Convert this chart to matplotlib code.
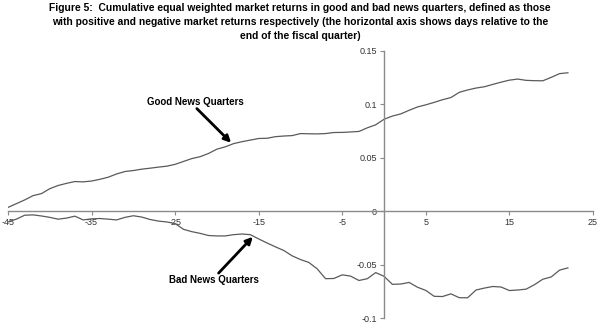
import matplotlib
matplotlib.use("Agg")
import matplotlib.pyplot as plt

plt.rcParams['font.family'] = ['Liberation Sans', 'DejaVu Sans']

# days relative to fiscal quarter end
days = list(range(-45, 23))

good_news = [0.0035, 0.007, 0.0105, 0.0145, 0.0164, 0.021, 0.024, 0.026, 0.0277, 0.0274,
             0.0282, 0.0298, 0.0318, 0.0348, 0.0371, 0.038, 0.0393, 0.0402, 0.0412, 0.0421,
             0.0438, 0.0465, 0.0492, 0.051, 0.054, 0.058, 0.0602, 0.0632, 0.065, 0.0665,
             0.068, 0.0682, 0.0697, 0.0703, 0.0707, 0.0726, 0.0724, 0.0723, 0.0726, 0.0736,
             0.0737, 0.0741, 0.0746, 0.078, 0.0808, 0.086, 0.089, 0.091, 0.0944, 0.0975,
             0.0995, 0.1018, 0.1043, 0.1063, 0.1112, 0.1134, 0.1152, 0.1164, 0.1186, 0.1207,
             0.1226, 0.1236, 0.1224, 0.1221, 0.122, 0.1252, 0.1287, 0.1295]

bad_news = [-0.0101, -0.0075, -0.0038, -0.0035, -0.0045, -0.0058, -0.0075, -0.0065, -0.0047, -0.0082,
            -0.0072, -0.0069, -0.0075, -0.0082, -0.0058, -0.0043, -0.0055, -0.0078, -0.0093, -0.0101,
            -0.0116, -0.017, -0.0192, -0.0208, -0.0228, -0.0232, -0.0232, -0.022, -0.0214, -0.022,
            -0.026, -0.0298, -0.0334, -0.0368, -0.0418, -0.0453, -0.048, -0.054, -0.0632, -0.063,
            -0.0596, -0.0608, -0.0649, -0.0632, -0.0575, -0.061, -0.0685, -0.0682, -0.0667, -0.0712,
            -0.0742, -0.0797, -0.0799, -0.0774, -0.081, -0.0811, -0.0738, -0.072, -0.0705, -0.071,
            -0.0743, -0.0738, -0.073, -0.0688, -0.0637, -0.0616, -0.0552, -0.0531]

x_ticks = [-45, -35, -25, -15, -5, 5, 15, 25]
y_ticks = [-0.1, -0.05, 0, 0.05, 0.1, 0.15]
y_labels = ['-0.1', '-0.05', '0', '0.05', '0.1', '0.15']

title = ("Figure 5:  Cumulative equal weighted market returns in good and bad news quarters, defined as those\n"
         "with positive and negative market returns respectively (the horizontal axis shows days relative to the\n"
         "end of the fiscal quarter)")

fig = plt.figure(figsize=(6, 3.24), dpi=100)
ax = fig.add_axes([0.0133, 0.0185, 0.975, 0.8245])

line_col = '#5a5a5a'
axis_col = '#8a8a8a'
ax.plot(days, good_news, color=line_col, lw=0.9)
ax.plot(days, bad_news, color=line_col, lw=0.9)

ax.set_xlim(-45, 25)
ax.set_ylim(-0.1, 0.15)

# axes cross at the origin
ax.spines['left'].set_position(('data', 0))
ax.spines['bottom'].set_position(('data', 0))
ax.spines['right'].set_visible(False)
ax.spines['top'].set_visible(False)
for s in ('left', 'bottom'):
    ax.spines[s].set_color(axis_col)
    ax.spines[s].set_linewidth(1.0)

ax.set_xticks(x_ticks)
ax.set_xticklabels([str(t) for t in x_ticks])
ax.set_yticks(y_ticks)
ax.set_yticklabels(y_labels)
ax.tick_params(axis='both', colors=axis_col, labelcolor='#333333', labelsize=6.5,
               length=3, width=0.8, direction='out', pad=2)

fig.text(0.5, 0.99, title, ha='center', va='top', fontsize=7.35, fontweight='bold',
         linespacing=1.5)

ax.text(-22.6, 0.102, 'Good News Quarters', ha='center', va='center', fontsize=7,
        fontweight='bold')
ax.annotate('', xy=(-18.3, 0.064), xytext=(-22.4, 0.096),
            arrowprops=dict(arrowstyle='-|>', color='black', lw=2, mutation_scale=10,
                            shrinkA=0, shrinkB=0))

ax.text(-20.3, -0.064, 'Bad News Quarters', ha='center', va='center', fontsize=7,
        fontweight='bold')
ax.annotate('', xy=(-15.7, -0.024), xytext=(-19.8, -0.058),
            arrowprops=dict(arrowstyle='-|>', color='black', lw=2, mutation_scale=10,
                            shrinkA=0, shrinkB=0))

fig.savefig('out.png', dpi=100)
